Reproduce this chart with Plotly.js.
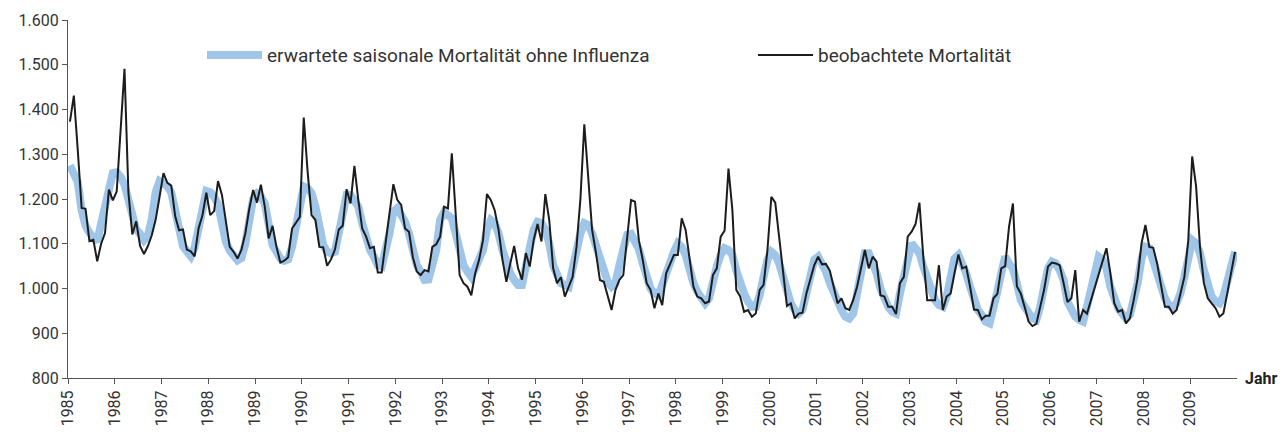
<!DOCTYPE html>
<html>
<head>
<meta charset="utf-8">
<script src="https://cdn.plot.ly/plotly-3.0.1.min.js"></script>
<style>html,body{margin:0;padding:0;background:#fff;}#chart{width:1285px;height:432px;}</style>
</head>
<body>
<div id="chart"></div>
<script>
// Monthly values, January 1985 – December 2009
const startYear = 1985;
const yearTicks = [1985,1986,1987,1988,1989,1990,1991,1992,1993,1994,1995,1996,1997,1998,1999,2000,2001,2002,2003,2004,2005,2006,2007,2008,2009];

const expected = [
  1275,1256,1238,1175,1140,1124,1117,1105,1145,1190,1236,1258, // 1985
  1260,1250,1232,1195,1150,1132,1122,1108,1118,1155,1215,1240, // 1986
  1235,1228,1215,1176,1117,1095,1083,1072,1092,1130,1180,1218, // 1987
  1215,1205,1188,1140,1105,1085,1070,1063,1068,1100,1150,1200, // 1988
  1212,1205,1190,1131,1097,1082,1067,1062,1065,1093,1138,1198, // 1989
  1228,1224,1213,1183,1138,1097,1082,1079,1082,1123,1172,1209, // 1990
  1209,1194,1183,1146,1108,1086,1071,1052,1049,1079,1123,1172, // 1991
  1179,1164,1149,1123,1079,1052,1038,1019,1020,1049,1086,1153, // 1992
  1170,1164,1157,1123,1079,1052,1038,1026,1045,1067,1086,1131, // 1993
  1153,1146,1123,1086,1052,1034,1019,1008,1008,1056,1093,1131, // 1994
  1149,1146,1131,1101,1052,1034,1012,1008,1004,1045,1086,1123, // 1995
  1146,1142,1123,1093,1064,1030,1015,1004,1012,1052,1093,1120, // 1996
  1122,1105,1088,1056,1023,1000,989,985,1008,1038,1064,1082,   // 1997
  1101,1093,1075,1041,1012,993,978,967,978,1019,1049,1075,     // 1998
  1090,1086,1075,1041,1012,989,971,959,959,985,1026,1064,      // 1999
  1082,1075,1056,1023,989,967,952,944,952,997,1041,1064,       // 2000
  1071,1056,1038,1012,989,967,952,937,933,944,985,1030,        // 2001
  1079,1079,1060,1034,1000,978,959,948,944,989,1034,1071,      // 2002
  1101,1090,1079,1049,1019,993,974,963,959,982,1026,1067,      // 2003
  1075,1056,1034,1004,971,952,941,926,922,952,993,1034,        // 2004
  1071,1056,1045,1012,974,959,944,933,930,959,1004,1045,       // 2005
  1060,1056,1041,1019,970,952,937,930,926,959,1000,1049,       // 2006
  1071,1064,1045,1004,974,956,944,933,941,974,1012,1067,       // 2007
  1093,1090,1064,1034,1000,978,963,959,967,989,1026,1079,      // 2008
  1108,1101,1079,1041,1004,982,971,967,982,1012,1045,1082      // 2009
];

const observed = [
  1373,1431,1310,1180,1178,1106,1109,1061,1100,1124,1221,1197, // 1985
  1217,1350,1491,1215,1121,1150,1095,1077,1095,1119,1154,1205, // 1986
  1258,1236,1230,1162,1130,1132,1087,1083,1072,1134,1163,1214, // 1987
  1164,1173,1240,1209,1153,1093,1082,1067,1086,1123,1177,1220, // 1988
  1192,1232,1183,1112,1140,1093,1058,1062,1070,1134,1147,1160, // 1989
  1382,1260,1164,1153,1093,1092,1051,1065,1087,1132,1140,1222, // 1990
  1190,1274,1198,1134,1116,1090,1093,1036,1036,1101,1160,1233, // 1991
  1198,1187,1134,1127,1070,1038,1030,1041,1038,1093,1099,1116, // 1992
  1183,1179,1302,1166,1030,1012,1004,985,1034,1064,1108,1211,  // 1993
  1198,1175,1131,1064,1015,1056,1095,1045,1020,1079,1049,1108, // 1994
  1144,1105,1211,1153,1045,1012,1025,982,1004,1026,1093,1200,  // 1995
  1367,1250,1131,1079,1019,1015,982,952,997,1019,1030,1108,    // 1996
  1198,1194,1108,1064,1012,997,956,989,963,1034,1056,1075,     // 1997
  1075,1157,1131,1064,1004,982,978,967,971,1030,1045,1116,     // 1998
  1129,1268,1175,997,982,948,952,937,944,997,1008,1086,        // 1999
  1205,1192,1116,1045,961,967,933,944,946,989,1023,1052,       // 2000
  1071,1054,1055,1040,1004,967,978,956,952,974,1004,1049,      // 2001
  1086,1045,1071,1060,985,982,959,959,943,1012,1026,1116,      // 2002
  1127,1144,1192,1070,974,974,974,1052,952,982,989,1034,       // 2003
  1076,1045,1049,1004,953,952,931,939,939,978,988,1045,        // 2004
  1050,1138,1190,1005,989,959,926,916,921,959,997,1049,        // 2005
  1058,1056,1052,1012,970,978,1041,926,952,944,974,1004,       // 2006
  1034,1064,1090,1034,967,948,952,922,933,974,1023,1101,       // 2007
  1142,1093,1091,1056,1008,959,959,944,952,993,1026,1108,      // 2008
  1295,1228,1093,1012,978,967,956,937,944,989,1034,1082        // 2009
];

const seriesNames = ["erwartete saisonale Mortalität ohne Influenza", "beobachtete Mortalität"];
const yTicks = [800,900,1000,1100,1200,1300,1400,1500,1600];

const monthX = expected.map((_, i) => startYear + (i + 0.5) / 12);
const FONT = "Roboto, 'Liberation Sans', sans-serif";

const traces = [
  {x: monthX, y: expected, type: 'scatter', mode: 'lines', name: seriesNames[0], legend: 'legend',
   line: {color: '#9fc5e8', width: 8}},
  {x: monthX, y: observed, type: 'scatter', mode: 'lines', name: seriesNames[1], legend: 'legend2',
   line: {color: '#1c1c1c', width: 2}}
];

const legendBase = {orientation: 'h', yanchor: 'middle', xanchor: 'left', itemwidth: 55,
  bgcolor: 'rgba(0,0,0,0)', font: {family: FONT, size: 19, color: '#333333'}};

const layout = {
  width: 1285, height: 432,
  margin: {l: 68, r: 48, t: 20, b: 54},
  paper_bgcolor: '#ffffff', plot_bgcolor: '#ffffff',
  separators: ',.',
  font: {family: FONT, size: 16, color: '#333333'},
  showlegend: true,
  legend: Object.assign({}, legendBase, {x: (202 - 68) / 1169, y: 0.902}),
  legend2: Object.assign({}, legendBase, {x: (753 - 68) / 1169, y: 0.902}),
  xaxis: {range: [1985, 2010], tickvals: yearTicks, ticktext: yearTicks.map(String),
          tickangle: -90, ticks: 'outside', ticklen: 5, tickcolor: '#555', showgrid: false,
          zeroline: false, showline: true, linecolor: '#555', linewidth: 1,
          tickfont: {family: FONT, size: 16, color: '#333'}},
  yaxis: {range: [800, 1600], tickvals: yTicks, tickformat: ',d', ticks: 'outside', ticklen: 5,
          tickcolor: '#555', showgrid: false, zeroline: false, showline: true, linecolor: '#555',
          linewidth: 1, tickfont: {family: FONT, size: 16, color: '#333'}},
  annotations: [
    {text: '<b>Jahr</b>', xref: 'paper', yref: 'paper', x: 1.005, y: 0, xanchor: 'left',
     yanchor: 'middle', showarrow: false, font: {family: FONT, size: 16, color: '#222'}}
  ]
};

Plotly.newPlot('chart', traces, layout, {displayModeBar: false, staticPlot: true});
</script>
</body>
</html>
